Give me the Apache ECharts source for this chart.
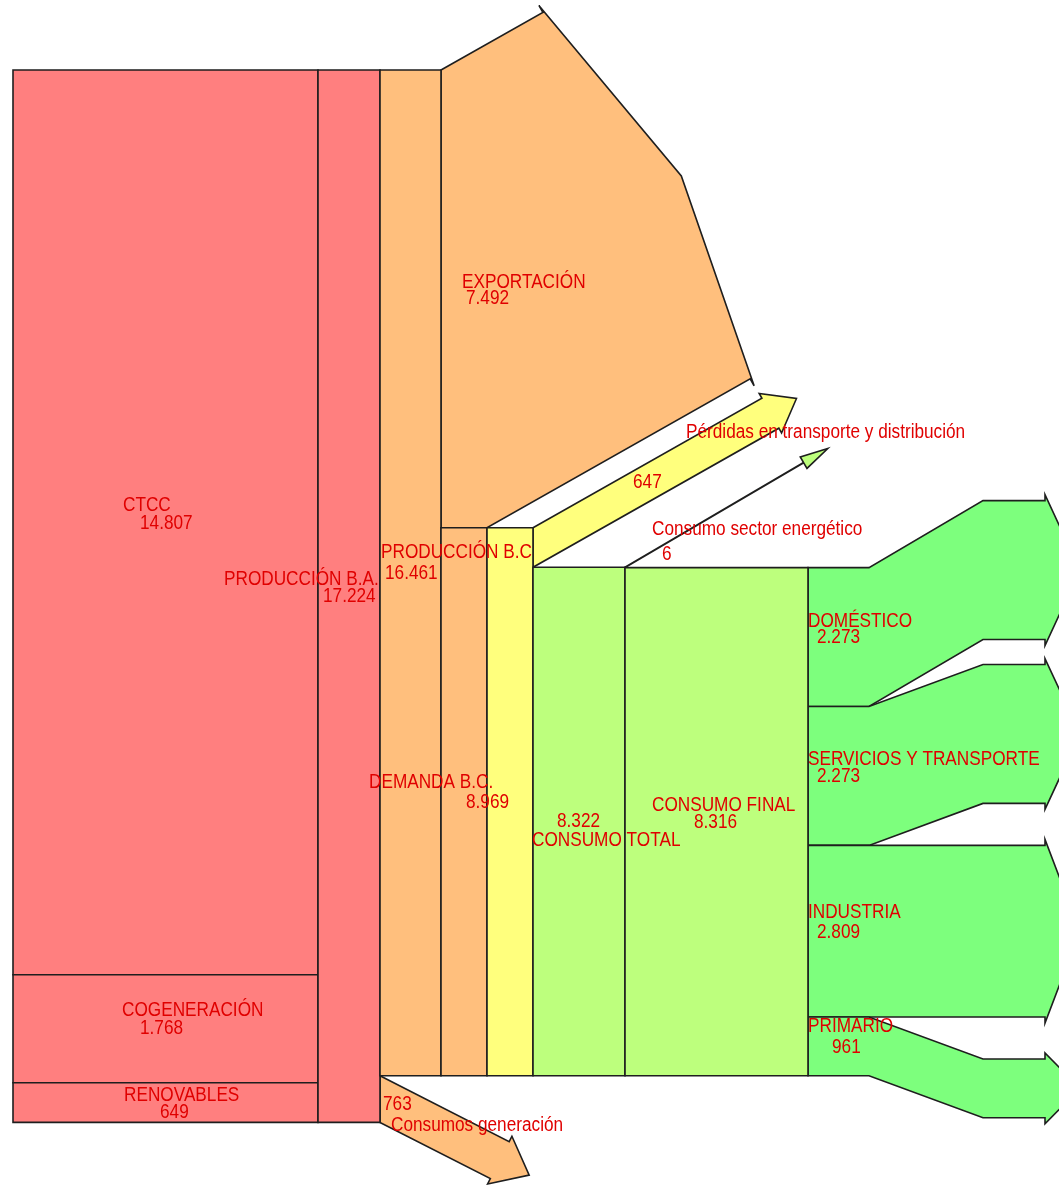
<!DOCTYPE html>
<html><head><meta charset="utf-8">
<script src="https://cdn.jsdelivr.net/npm/echarts@6/dist/echarts.min.js"></script>
<style>html,body{margin:0;padding:0;background:#fff}#c{width:1059px;height:1185px}</style>
</head><body><div id="c"></div>
<script>
// ---------------- DATA (values as printed on the diagram) ----------------
const sourceNames = ['CTCC', 'COGENERACIÓN', 'RENOVABLES'];
const sourceValues = [14807, 1768, 649];
const produccionBAName = 'PRODUCCIÓN B.A.';
const produccionBA = 17224;
const consumosGeneracionName = 'Consumos generación';
const consumosGeneracion = 763;
const produccionBCName = 'PRODUCCIÓN B.C';
const produccionBC = 16461;
const exportacionName = 'EXPORTACIÓN';
const exportacion = 7492;
const demandaBCName = 'DEMANDA B.C.';
const demandaBC = 8969;
const perdidasName = 'Pérdidas en transporte y distribución';
const perdidas = 647;
const consumoTotalName = 'CONSUMO TOTAL';
const consumoTotal = 8322;
const sectorEnergeticoName = 'Consumo sector energético';
const sectorEnergetico = 6;
const consumoFinalName = 'CONSUMO FINAL';
const consumoFinal = 8316;
const sectorNames = ['DOMÉSTICO', 'SERVICIOS Y TRANSPORTE', 'INDUSTRIA', 'PRIMARIO'];
const sectorValues = [2273, 2273, 2809, 961];

// ---------------- LAYOUT / STYLE ----------------
const W = 1059, H = 1185, TOP_PX = 70, PX_PER_UNIT = 0.0611;
const COL = {a: 13, b: 318, c: 380, d: 441, e: 487, f: 533, g: 625, h: 808};
const C = {red: '#ff7f7f', orange: '#ffbf7d', yellow: '#ffff7d', lime: '#bdff7d', green: '#7dff7d'};
const STROKE = '#1e1e1e', LW = 1.6;
const TXT = '#e00000';
const fmt = n => String(n).replace(/\B(?=(\d{3})+(?!\d))/g, '.');

// ---------------- NODES (rectangles) ----------------
const boxes = [];
let acc = 0;
sourceValues.forEach(v => { boxes.push({value: [COL.a, COL.b, acc, acc + v], itemStyle: {color: C.red}}); acc += v; });
boxes.push({value: [COL.b, COL.c, 0, produccionBA], itemStyle: {color: C.red}});
boxes.push({value: [COL.c, COL.d, 0, produccionBC], itemStyle: {color: C.orange}});
boxes.push({value: [COL.d, COL.e, exportacion, exportacion + demandaBC], itemStyle: {color: C.orange}});
boxes.push({value: [COL.e, COL.f, exportacion, exportacion + demandaBC], itemStyle: {color: C.yellow}});
const ctTop = exportacion + perdidas;
boxes.push({value: [COL.f, COL.g, ctTop, ctTop + consumoTotal], itemStyle: {color: C.lime}});
const cfTop = ctTop + sectorEnergetico;
boxes.push({value: [COL.g, COL.h, cfTop, cfTop + consumoFinal], itemStyle: {color: C.lime}});

// ---------------- OBLIQUE FLOWS (arrows) ----------------
// value: [xUpper, vUpper, xLower, vLower, xCorner, vCorner]
const oblique = [
  {value: [COL.d, 0, COL.e, exportacion, COL.d, exportacion], itemStyle: {color: C.orange}},
  {value: [COL.f, exportacion, COL.f, exportacion + perdidas, NaN, NaN], itemStyle: {color: C.yellow}},
  {value: [COL.g, ctTop, COL.g, ctTop + sectorEnergetico, NaN, NaN], itemStyle: {color: C.lime}},
  {value: [COL.c, produccionBC, COL.c, produccionBA, NaN, NaN], itemStyle: {color: C.orange}}
];
const OBL_LAYOUT = [
  {angle: 29.5, len: 117, head: 40, barb: 8},
  {angle: 29.5, len: 263, head: 30, barb: 5.5},
  {angle: 30.4, len: 207, head: 28, barb: 6.5},
  {angle: -27, len: 145, head: 33, barb: 6}
];

// ---------------- SECTOR OUTPUTS ----------------
const sectorData = [];
let sAcc = cfTop;
sectorValues.forEach(v => { sectorData.push({value: [COL.h, sAcc, sAcc + v], itemStyle: {color: C.green}}); sAcc += v; });
const SECTOR_SHIFT = [-67, -42, 0, 42];
const SX = {bend0: 869, bend1: 983, head: 1045, headLen: 35, barb: 6};

function renderBox(params, api) {
  const p0 = api.coord([api.value(0), api.value(2)]);
  const p1 = api.coord([api.value(1), api.value(3)]);
  return {type: 'rect', shape: {x: p0[0], y: p0[1], width: p1[0] - p0[0], height: p1[1] - p0[1]},
    style: {fill: api.visual('color'), stroke: STROKE, lineWidth: LW}};
}

function renderOblique(params, api) {
  const L = OBL_LAYOUT[params.dataIndex];
  const U = api.coord([api.value(0), api.value(1)]);
  const Lo = api.coord([api.value(2), api.value(3)]);
  const th = L.angle * Math.PI / 180;
  const d = [Math.cos(th), -Math.sin(th)];
  const n = [Math.sin(th), Math.cos(th)];
  const w = (Lo[0] - U[0]) * n[0] + (Lo[1] - U[1]) * n[1];
  const ue = [U[0] + L.len * d[0], U[1] + L.len * d[1]];
  const le = [ue[0] + w * n[0], ue[1] + w * n[1]];
  const b1 = [ue[0] - L.barb * n[0], ue[1] - L.barb * n[1]];
  const b2 = [le[0] + L.barb * n[0], le[1] + L.barb * n[1]];
  const mid = [(ue[0] + le[0]) / 2, (ue[1] + le[1]) / 2];
  const tip = [mid[0] + L.head * d[0], mid[1] + L.head * d[1]];
  const pts = [U, ue, b1, tip, b2, le, Lo];
  const xc = api.value(4);
  if (!isNaN(xc)) pts.push(api.coord([xc, api.value(5)]));
  return {type: 'polygon', shape: {points: pts},
    style: {fill: api.visual('color'), stroke: STROKE, lineWidth: LW, lineJoin: 'miter'}};
}

function renderSector(params, api) {
  const s = SECTOR_SHIFT[params.dataIndex];
  const a = api.coord([api.value(0), api.value(1)]);
  const b = api.coord([api.value(0), api.value(2)]);
  const x0 = a[0], t = a[1], bt = b[1];
  const xb0 = api.coord([SX.bend0, 0])[0], xb1 = api.coord([SX.bend1, 0])[0], xh = api.coord([SX.head, 0])[0];
  const pts = [[x0, t], [xb0, t], [xb1, t + s], [xh, t + s], [xh, t + s - SX.barb],
    [xh + SX.headLen, (t + bt) / 2 + s], [xh, bt + s + SX.barb], [xh, bt + s], [xb1, bt + s], [xb0, bt], [x0, bt]];
  return {type: 'polygon', shape: {points: pts},
    style: {fill: api.visual('color'), stroke: STROKE, lineWidth: LW}};
}

// ---------------- LABELS (text from data, baseline positions in px) ----------------
const FS = 20, SCX = 0.86;
const labelDefs = [
  [sourceNames[0], 123, 512], [fmt(sourceValues[0]), 140, 530],
  [sourceNames[1], 122, 1017], [fmt(sourceValues[1]), 140, 1035],
  [sourceNames[2], 124, 1102], [fmt(sourceValues[2]), 160, 1119],
  [produccionBAName, 224, 586], [fmt(produccionBA), 323, 603],
  [produccionBCName, 381, 559], [fmt(produccionBC), 385, 580],
  [exportacionName, 462, 289], [fmt(exportacion), 466, 305],
  [fmt(perdidas), 633, 489], [perdidasName, 686, 439],
  [sectorEnergeticoName, 652, 536], [fmt(sectorEnergetico), 662, 561],
  [demandaBCName, 369, 789], [fmt(demandaBC), 466, 809],
  [fmt(consumoTotal), 557, 828], [consumoTotalName, 532, 847],
  [consumoFinalName, 652, 812], [fmt(consumoFinal), 694, 829],
  [sectorNames[0], 808, 628], [fmt(sectorValues[0]), 817, 644],
  [sectorNames[1], 808, 766], [fmt(sectorValues[1]), 817, 783],
  [sectorNames[2], 808, 919], [fmt(sectorValues[2]), 817, 939],
  [sectorNames[3], 808, 1033], [fmt(sectorValues[3]), 832, 1054],
  [fmt(consumosGeneracion), 383, 1111], [consumosGeneracionName, 391, 1132]
];
const graphics = labelDefs.map(([t, x, yb]) => ({
  type: 'text', x: x, y: yb - 0.35 * FS, scaleX: SCX, z: 100, silent: true,
  style: {text: t, x: 0, y: 0, fill: TXT, fontSize: FS, fontFamily: '"Liberation Sans", Arial, sans-serif',
    align: 'left', verticalAlign: 'middle'}
}));

const chart = echarts.init(document.getElementById('c'), null, {renderer: 'canvas'});
chart.setOption({
  animation: false,
  grid: {left: 0, right: 0, top: 0, bottom: 0},
  xAxis: {type: 'value', min: 0, max: W, show: false},
  yAxis: {type: 'value', inverse: true, min: -TOP_PX / PX_PER_UNIT, max: (H - TOP_PX) / PX_PER_UNIT, show: false},
  series: [
    {type: 'custom', name: 'flujos', renderItem: renderOblique, data: oblique, encode: {x: [0, 2], y: [1, 3]}, clip: false, z: 1, silent: true},
    {type: 'custom', name: 'sectores', renderItem: renderSector, data: sectorData, encode: {x: 0, y: [1, 2]}, clip: false, z: 1, silent: true},
    {type: 'custom', name: 'nodos', renderItem: renderBox, data: boxes, encode: {x: [0, 1], y: [2, 3]}, clip: false, z: 2, silent: true}
  ],
  graphic: graphics
});
</script></body></html>
